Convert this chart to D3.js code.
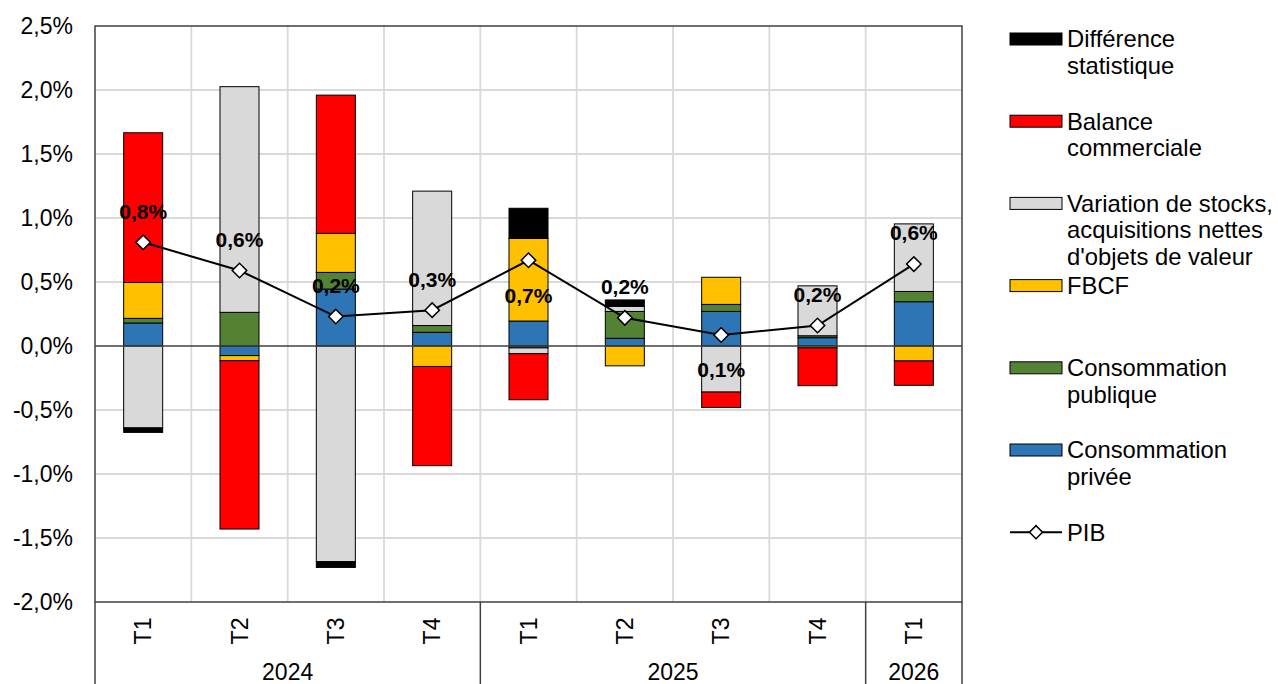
<!DOCTYPE html>
<html><head><meta charset="utf-8">
<script src="https://cdn.jsdelivr.net/npm/d3@7"></script>
<style>
html,body{margin:0;padding:0;background:#fff;}
text{font-family:"Liberation Sans",Arial,sans-serif;fill:#000;}
</style></head>
<body>
<svg id="chart" width="1278" height="684"></svg>
<script>
// ---- data ----
const quarters = ["T1","T2","T3","T4","T1","T2","T3","T4","T1"];
const years = [{label:"2024", from:0, to:4},{label:"2025", from:4, to:8},{label:"2026", from:8, to:9}];
const consoPrivee   = [0.18, -0.075, 0.445, 0.107, 0.195, 0.06, 0.27, 0.065, 0.346];
const consoPublique = [0.036, 0.263, 0.13, 0.053, -0.015, 0.21, 0.055, 0.015, 0.08];
const fbcf          = [0.28, -0.04, 0.305, -0.16, 0.645, -0.155, 0.212, -0.015, -0.117];
const stocks        = [-0.64, 1.763, -1.685, 1.05, -0.045, 0.04, -0.36, 0.39, 0.528];
const balance       = [1.17, -1.315, 1.08, -0.775, -0.36, 0, -0.12, -0.295, -0.19];
const diffStat      = [-0.035, 0, -0.045, 0, 0.236, 0.05, 0, 0, 0];
const pib           = [0.81, 0.59, 0.23, 0.28, 0.67, 0.22, 0.086, 0.16, 0.64];
const labelSide     = ["above","above","above","above","below","above","below","above","above"];
const yTicks = [-2,-1.5,-1,-0.5,0,0.5,1,1.5,2,2.5];

const seriesDefs = [
  {key:"privee",   name:["Consommation","privée"], color:"#2E75B6", values:consoPrivee},
  {key:"publique", name:["Consommation","publique"], color:"#548235", values:consoPublique},
  {key:"fbcf",     name:["FBCF"], color:"#FFC000", values:fbcf},
  {key:"stocks",   name:["Variation de stocks,","acquisitions nettes","d'objets de valeur"], color:"#D9D9D9", values:stocks},
  {key:"balance",  name:["Balance","commerciale"], color:"#FF0000", values:balance},
  {key:"diff",     name:["Différence","statistique"], color:"#000000", values:diffStat}
];

// ---- layout ----
const svg = d3.select("#chart");
const L = 95, R = 962, T = 26, B = 602;
const x = d3.scaleBand().domain(d3.range(quarters.length)).range([L, R]).padding(0);
const y = d3.scaleLinear().domain([-2, 2.5]).range([B, T]);
const barW = x.bandwidth() * 0.405;
const cx = i => x(i) + x.bandwidth()/2;
const fmt = v => d3.format(".1f")(v).replace(".", ",") + "%";

// gridlines
const grid = svg.append("g");
grid.selectAll("line.h").data(yTicks.filter(t => t > -2 && t < 2.5 && t !== 0)).join("line")
  .attr("x1", L).attr("x2", R).attr("y1", d => y(d)).attr("y2", d => y(d))
  .attr("stroke", "#D9D9D9").attr("stroke-width", 1.8);
grid.selectAll("line.v").data(d3.range(1, quarters.length)).join("line")
  .attr("x1", d => x(d)).attr("x2", d => x(d)).attr("y1", T).attr("y2", B)
  .attr("stroke", "#D9D9D9").attr("stroke-width", 1.8);

// stacked bars
const table = quarters.map((q, i) => {
  const o = {i};
  seriesDefs.forEach(s => o[s.key] = s.values[i]);
  return o;
});
const stack = d3.stack().keys(seriesDefs.map(s => s.key)).offset(d3.stackOffsetDiverging);
const stacked = stack(table);
const colorOf = Object.fromEntries(seriesDefs.map(s => [s.key, s.color]));
svg.append("g").selectAll("g").data(stacked).join("g")
  .attr("fill", d => colorOf[d.key])
  .selectAll("rect").data(d => d.filter(p => p[1] - p[0] !== 0)).join("rect")
  .attr("x", (p) => cx(p.data.i) - barW/2)
  .attr("width", barW)
  .attr("y", p => y(Math.max(p[0], p[1])))
  .attr("height", p => Math.abs(y(p[0]) - y(p[1])))
  .attr("stroke", "#000").attr("stroke-width", 1);

// zero line
svg.append("line").attr("x1", L).attr("x2", R).attr("y1", y(0)).attr("y2", y(0))
  .attr("stroke", "#404040").attr("stroke-width", 1.3);

// plot frame and category-axis frame
svg.append("rect").attr("x", L).attr("y", T).attr("width", R - L).attr("height", B - T)
  .attr("fill", "none").attr("stroke", "#404040").attr("stroke-width", 1.5);
const sepX = [0, 4, 8, 9].map(k => k === quarters.length ? R : x(k));
svg.append("g").selectAll("line").data(sepX).join("line")
  .attr("x1", d => d).attr("x2", d => d).attr("y1", B).attr("y2", 684)
  .attr("stroke", "#404040").attr("stroke-width", 1.5);

// y tick labels
svg.append("g").selectAll("text").data(yTicks).join("text")
  .attr("x", 73).attr("y", d => y(d)).attr("dy", "0.35em")
  .attr("text-anchor", "end").attr("font-size", 23)
  .text(d => d3.format(".1f")(d).replace(".", ",").replace("−","-") + "%");

// quarter labels (rotated)
svg.append("g").selectAll("text").data(quarters).join("text")
  .attr("transform", (d, i) => `translate(${cx(i) + 8},631) rotate(-90)`)
  .attr("text-anchor", "middle").attr("font-size", 23)
  .text(d => d);

// year labels
svg.append("g").selectAll("text").data(years).join("text")
  .attr("x", d => (x(d.from) + (d.to === quarters.length ? R : x(d.to))) / 2)
  .attr("y", 680).attr("text-anchor", "middle").attr("font-size", 23)
  .text(d => d.label);

// PIB line
const line = d3.line().x((d, i) => cx(i)).y(d => y(d));
svg.append("path").datum(pib).attr("d", line)
  .attr("fill", "none").attr("stroke", "#000").attr("stroke-width", 2);
const diamond = d3.symbol().type(d3.symbolSquare).size(105);
svg.append("g").selectAll("path").data(pib).join("path")
  .attr("d", diamond)
  .attr("transform", (d, i) => `translate(${cx(i)},${y(d)}) rotate(45)`)
  .attr("fill", "#fff").attr("stroke", "#000").attr("stroke-width", 1.5);

// data labels
svg.append("g").selectAll("text").data(pib).join("text")
  .attr("x", (d, i) => cx(i))
  .attr("y", (d, i) => y(d) + (labelSide[i] === "above" ? -31 : 35))
  .attr("dy", "0.35em").attr("text-anchor", "middle")
  .attr("font-size", 21).attr("font-weight", "bold")
  .text(d => fmt(d));

// legend
const legendItems = [...seriesDefs].reverse().map(s => ({type:"bar", ...s}))
  .concat([{type:"line", name:["PIB"]}]);
const lg = svg.append("g");
const lgY0 = 39, lgStep = 82.2, swX = 1010, swW = 52, txX = 1067, lh = 26.5;
legendItems.forEach((it, k) => {
  const cy = lgY0 + k * lgStep;
  if (it.type === "bar") {
    lg.append("rect").attr("x", swX).attr("y", cy - 6).attr("width", swW).attr("height", 12)
      .attr("fill", it.color).attr("stroke", "#000").attr("stroke-width", 1);
  } else {
    lg.append("line").attr("x1", swX).attr("x2", swX + swW).attr("y1", cy).attr("y2", cy)
      .attr("stroke", "#000").attr("stroke-width", 2);
    lg.append("path").attr("d", d3.symbol().type(d3.symbolSquare).size(85))
      .attr("transform", `translate(${swX + swW/2},${cy}) rotate(45)`)
      .attr("fill", "#fff").attr("stroke", "#000").attr("stroke-width", 1.5);
  }
  const t = lg.append("text").attr("x", txX).attr("y", cy).attr("font-size", 23.8);
  it.name.forEach((ln, j) => {
    t.append("tspan").attr("x", txX).attr("y", cy + j * lh).attr("dy", "0.35em").text(ln);
  });
});
</script>
</body></html>
